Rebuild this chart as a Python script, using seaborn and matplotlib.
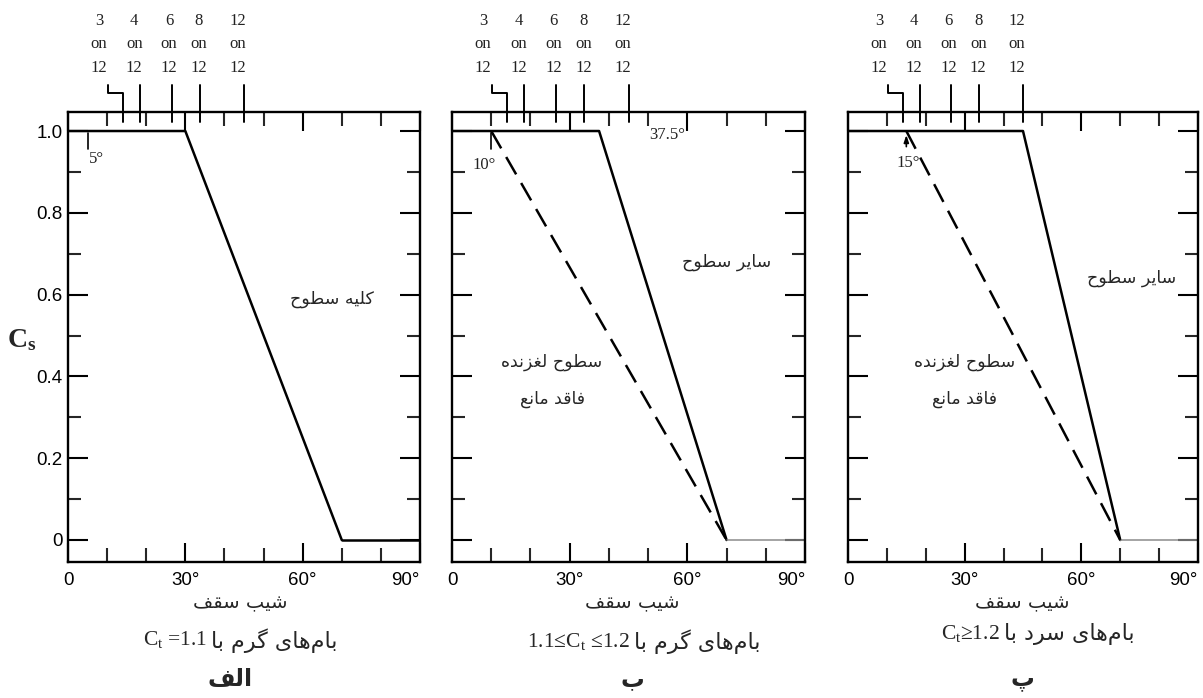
import numpy as np
import pandas as pd
import matplotlib
matplotlib.use("Agg")
import matplotlib.pyplot as plt
import seaborn as sns

# ---------------- data ----------------
plateau_end = [30.0, 37.5, 45.0]        # slope (deg) where the solid curve leaves Cs = 1.0
zero_slope = [70.0, 70.0, 70.0]         # slope (deg) where Cs reaches 0
slippery_start = [None, 10.0, 15.0]     # slope (deg) where the dashed curve leaves Cs = 1.0
slope_max = 90.0
cs_top = 1.0
cs_zero = 0.0
pitch_rise = [3, 4, 6, 8, 12]           # roof pitch "x on 12"
pitch_run = 12
xtick_vals = [0, 30, 60, 90]
xtick_labels = ["0", "30°", "60°", "90°"]
ytick_vals = [0.0, 0.2, 0.4, 0.6, 0.8, 1.0]
ytick_labels = ["0", "0.2", "0.4", "0.6", "0.8", "1.0"]
marker_slopes = [5, 10, 15]
marker_texts = ["5°", "10°", "15°"]
angle_note = "37.5°"
label_all = "کلیه سطوح"
label_other = "سایر سطوح"
label_slip1 = "سطوح لغزنده"
label_slip2 = "فاقد مانع"
xlabel_fa = "شیب سقف"
sub_fa = ["بام\u200cهای گرم با", "بام\u200cهای گرم با", "بام\u200cهای سرد با"]
sub_lat = [r"$\mathrm{C_t}$ =1.1", r"1.1≤$\mathrm{C_t}$ ≤1.2", r"$\mathrm{C_t}$≥1.2"]
panel_letters = ["الف", "ب", "پ"]

# ------------- minimal Persian shaping (presentation forms, visual order) -------------
FORMS = {
    "ا": ("\uFE8D", "\uFE8E", None, None),
    "ب": ("\uFE8F", "\uFE90", "\uFE91", "\uFE92"),
    "پ": ("\uFB56", "\uFB57", "\uFB58", "\uFB59"),
    "ح": ("\uFEA1", "\uFEA2", "\uFEA3", "\uFEA4"),
    "د": ("\uFEA9", "\uFEAA", None, None),
    "ر": ("\uFEAD", "\uFEAE", None, None),
    "ز": ("\uFEAF", "\uFEB0", None, None),
    "س": ("\uFEB1", "\uFEB2", "\uFEB3", "\uFEB4"),
    "ش": ("\uFEB5", "\uFEB6", "\uFEB7", "\uFEB8"),
    "ط": ("\uFEC1", "\uFEC2", "\uFEC3", "\uFEC4"),
    "ع": ("\uFEC9", "\uFECA", "\uFECB", "\uFECC"),
    "غ": ("\uFECD", "\uFECE", "\uFECF", "\uFED0"),
    "ف": ("\uFED1", "\uFED2", "\uFED3", "\uFED4"),
    "ق": ("\uFED5", "\uFED6", "\uFED7", "\uFED8"),
    "ک": ("\uFB8E", "\uFB8F", "\uFB90", "\uFB91"),
    "گ": ("\uFB92", "\uFB93", "\uFB94", "\uFB95"),
    "ل": ("\uFEDD", "\uFEDE", "\uFEDF", "\uFEE0"),
    "م": ("\uFEE1", "\uFEE2", "\uFEE3", "\uFEE4"),
    "ن": ("\uFEE5", "\uFEE6", "\uFEE7", "\uFEE8"),
    "ه": ("\uFEE9", "\uFEEA", "\uFEEB", "\uFEEC"),
    "و": ("\uFEED", "\uFEEE", None, None),
    "ی": ("\uFBFC", "\uFBFD", "\uFBFE", "\uFBFF"),
}


def shape(text):
    out = []
    n = len(text)
    for i, c in enumerate(text):
        if c not in FORMS:
            if c != "\u200c":
                out.append(c)
            continue
        prev = text[i - 1] if i > 0 else None
        nxt = text[i + 1] if i + 1 < n else None
        con_prev = prev in FORMS and FORMS[prev][2] is not None
        con_next = nxt in FORMS and FORMS[c][2] is not None
        iso, fin, ini, med = FORMS[c]
        if con_prev and con_next:
            g = med
        elif con_prev:
            g = fin
        elif con_next:
            g = ini
        else:
            g = iso
        out.append(g)
    return "".join(reversed(out))


# ---------------- style ----------------
sns.set_theme(style="white")
plt.rcParams["font.family"] = ["Liberation Sans", "DejaVu Sans"]
plt.rcParams["mathtext.fontset"] = "custom"
plt.rcParams["mathtext.rm"] = "Liberation Serif"
plt.rcParams["mathtext.it"] = "Liberation Serif:italic"
plt.rcParams["mathtext.bf"] = "Liberation Serif:bold"
FA = ["DejaVu Sans"]
SERIF = ["Liberation Serif", "DejaVu Serif"]

W, H = 1203, 698
fig = plt.figure(figsize=(W / 100, H / 100), dpi=100)
fig.patch.set_facecolor("white")

ax_left_px = [68, 452, 848]
ax_width_px = [352, 353, 350]
ax_top_px, ax_bot_px = 112, 562
axes = []
for lp, wp in zip(ax_left_px, ax_width_px):
    axes.append(fig.add_axes([lp / W, 1 - ax_bot_px / H, wp / W, (ax_bot_px - ax_top_px) / H]))

pt = 72 / 100  # points per pixel
label_dx = [-6.1, -1.5, -0.7, -0.2, -1.5]
pitch_deg = [np.degrees(np.arctan(r / pitch_run)) for r in pitch_rise]

for i, ax in enumerate(axes):
    ax.set_facecolor("white")
    solid = pd.DataFrame({"slope": [0.0, plateau_end[i], zero_slope[i]],
                          "cs": [cs_top, cs_top, cs_zero]})
    tail = pd.DataFrame({"slope": [zero_slope[i], slope_max], "cs": [cs_zero, cs_zero]})
    sns.lineplot(data=solid, x="slope", y="cs", ax=ax, color="black", lw=1.8,
                 sort=False, estimator=None)
    sns.lineplot(data=tail, x="slope", y="cs", ax=ax,
                 color="black" if i == 0 else "#8c8c8c",
                 lw=1.8 if i == 0 else 1.1, sort=False, estimator=None)
    if slippery_start[i] is not None:
        dashed = pd.DataFrame({"slope": [slippery_start[i], zero_slope[i]],
                               "cs": [cs_top, cs_zero]})
        sns.lineplot(data=dashed, x="slope", y="cs", ax=ax, color="black", lw=1.8,
                     sort=False, estimator=None, linestyle=(0, (8, 4)))
    ax.set_xlabel("")
    ax.set_ylabel("")
    ax.set_xlim(0, slope_max)
    ax.set_ylim(-0.0538, 1.0465)

    for s in ax.spines.values():
        s.set_visible(True)
        s.set_color("black")
        s.set_linewidth(1.7)

    ax.set_xticks(xtick_vals)
    ax.set_xticklabels(xtick_labels)
    ax.set_xticks([10, 20, 40, 50, 70, 80], minor=True)
    ax.set_yticks(ytick_vals)
    ax.set_yticklabels(ytick_labels)
    ax.set_yticks([0.1, 0.3, 0.5, 0.7, 0.9], minor=True)
    ax.tick_params(axis="x", which="major", direction="in", top=True, bottom=True,
                   length=19 * pt, width=1.5, labelsize=13.5, pad=7, colors="black")
    ax.tick_params(axis="x", which="minor", direction="in", top=True, bottom=True,
                   length=14 * pt, width=1.5)
    ax.tick_params(axis="y", which="major", direction="in", left=True, right=True,
                   length=20 * pt, width=1.5, labelsize=13.5, pad=4,
                   labelleft=(i == 0), colors="black")
    ax.tick_params(axis="y", which="minor", direction="in", left=True, right=True,
                   length=13 * pt, width=1.5)
    ax.get_xticklabels()[-1].set_horizontalalignment("right")
    ax.get_xticklabels()[0].set_horizontalalignment("center")

    # roof pitch scale above the frame
    tr = ax.get_xaxis_transform()
    for k, deg in enumerate(pitch_deg):
        if k == 0:
            kink_x = deg - 3.8
            ax.plot([kink_x, kink_x, deg, deg], [1.060, 1.042, 1.042, 0.978],
                    transform=tr, color="black", lw=1.4, clip_on=False)
        else:
            ax.plot([deg, deg], [1.060, 0.978], transform=tr, color="black",
                    lw=1.4, clip_on=False)
        ax.text(deg + label_dx[k], 1.081, f"{pitch_rise[k]}\non\n{pitch_run}",
                transform=tr, ha="center", va="bottom", fontsize=12,
                family=SERIF, linespacing=1.62, color="#222222")

    # markers of the slope where Cs starts decreasing
    ms = marker_slopes[i]
    if i < 2:
        ax.plot([ms, ms], [0.995, 0.955], color="black", lw=1.2)
    else:
        ax.annotate("", xy=(ms, 0.997), xytext=(ms, 0.955),
                    arrowprops=dict(arrowstyle="-|>,head_length=0.35,head_width=0.12",
                                    color="black", lw=1.2))
    mdx = [2.4, -1.8, 0.5][i]
    ax.text(ms + mdx, [0.932, 0.918, 0.922][i], marker_texts[i], ha="center", va="center",
            fontsize=12, family=SERIF, color="#222222")

    if i == 0:
        ax.text(67.4, 0.59, shape(label_all), ha="center", va="center", fontsize=12.5, family=FA)
    else:
        ox = [None, 70.0, 73.0][i]
        oy = [None, 0.68, 0.64][i]
        ax.text(ox, oy, shape(label_other), ha="center", va="center", fontsize=12.5, family=FA)
        sx = [None, 25.5, 30.0][i]
        ax.text(sx, 0.435, shape(label_slip1), ha="center", va="center", fontsize=12.5, family=FA)
        ax.text(sx, 0.345, shape(label_slip2), ha="center", va="center", fontsize=12.5, family=FA)
    if i == 1:
        ax.text(54.8, 0.99, angle_note, ha="center", va="center", fontsize=12,
                family=SERIF, color="#222222")

# y-axis label
fig.text(22 / W, 1 - 340 / H, r"$\mathbf{C_s}$", ha="center", va="center", fontsize=20)

# bottom captions
cx = [240, 632, 1022]
sub_y = [640, 641, 633]
split_x = [207, 630, 1000]
for i in range(3):
    fig.text(cx[i] / W, 1 - 603 / H, shape(xlabel_fa), ha="center", va="center",
             fontsize=14, family=FA)
    fig.text(split_x[i] / W, 1 - sub_y[i] / H, sub_lat[i], ha="right", va="center",
             fontsize=15.5, family=SERIF)
    fig.text((split_x[i] + 4) / W, 1 - (sub_y[i] + 1) / H, shape(sub_fa[i]), ha="left",
             va="center", fontsize=16, family=FA)
    fig.text(cx[i] / W - 0.008 * (i == 0), 1 - 679 / H, shape(panel_letters[i]),
             ha="center", va="center", fontsize=17, family=FA, fontweight="bold")

fig.savefig("out.png", dpi=100, facecolor="white")
